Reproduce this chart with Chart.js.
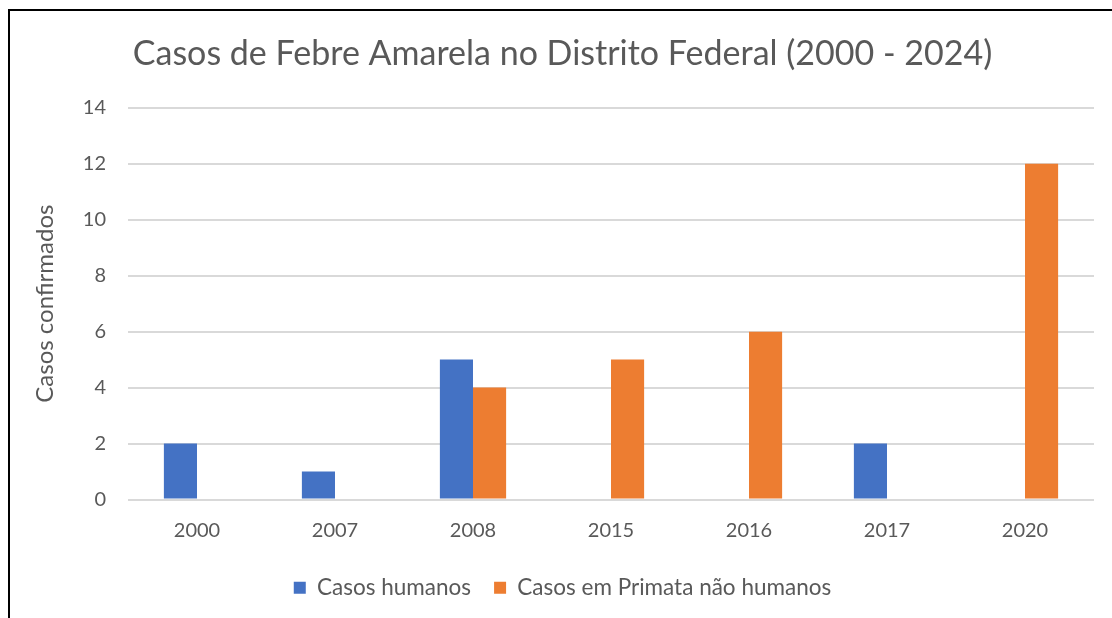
<!DOCTYPE html>
<html>
<head>
<meta charset="utf-8">
<script src="https://cdn.jsdelivr.net/npm/chart.js@4.4.1/dist/chart.umd.min.js"></script>
<style>
  body { margin: 0; background: #fff; }
  #frame { position: absolute; left: 8px; top: 9px; width: 1104px; height: 609px;
           border-left: 2px solid #000; border-top: 2px solid #000; box-sizing: border-box; }
  #wrap { position: absolute; left: 0; top: 0; width: 1112px; height: 618px; }
</style>
</head>
<body>
<div id="wrap"><canvas id="chart" width="1112" height="618"></canvas></div>
<div id="frame"></div>
<script>
// anos com casos confirmados
const anos = ['2000', '2007', '2008', '2015', '2016', '2017', '2020'];
const casosHumanos = [2, 1, 5, 0, 0, 2, 0];
const casosPrimatas = [0, 0, 4, 5, 6, 0, 12];

const fonte = 'Lato, "Open Sans", sans-serif';
const cinza = '#595959';

const ctx = document.getElementById('chart').getContext('2d');
new Chart(ctx, {
  type: 'bar',
  data: {
    labels: anos,
    datasets: [
      { label: 'Casos humanos', data: casosHumanos, backgroundColor: '#4472C4' },
      { label: 'Casos em Primata não humanos', data: casosPrimatas, backgroundColor: '#ED7D31' }
    ]
  },
  options: {
    responsive: false,
    animation: false,
    categoryPercentage: 0.48,
    barPercentage: 1.0,
    layout: { padding: { left: 31, right: 18, top: 22, bottom: 9 } },
    plugins: {
      title: {
        display: true,
        text: 'Casos de Febre Amarela no Distrito Federal (2000 - 2024)',
        color: cinza,
        font: { family: fonte, size: 34, weight: 'normal' },
        padding: { top: 12, bottom: 33 }
      },
      legend: {
        position: 'bottom',
        labels: {
          color: cinza,
          font: { family: fonte, size: 22.5 },
          boxWidth: 12,
          boxHeight: 12,
          padding: 23
        }
      },
      tooltip: { enabled: false }
    },
    scales: {
      x: {
        grid: { display: false },
        border: { display: false },
        ticks: { color: cinza, font: { family: fonte, size: 20 }, padding: 11 }
      },
      y: {
        min: 0,
        max: 14,
        ticks: { stepSize: 2, color: cinza, font: { family: fonte, size: 20 }, padding: 22 },
        grid: { color: '#D9D9D9', lineWidth: 2, drawTicks: false },
        border: { display: false },
        title: {
          display: true,
          text: 'Casos confirmados',
          color: cinza,
          font: { family: fonte, size: 24 },
          padding: { top: 0, bottom: 1 }
        }
      }
    }
  }
});
</script>
</body>
</html>
